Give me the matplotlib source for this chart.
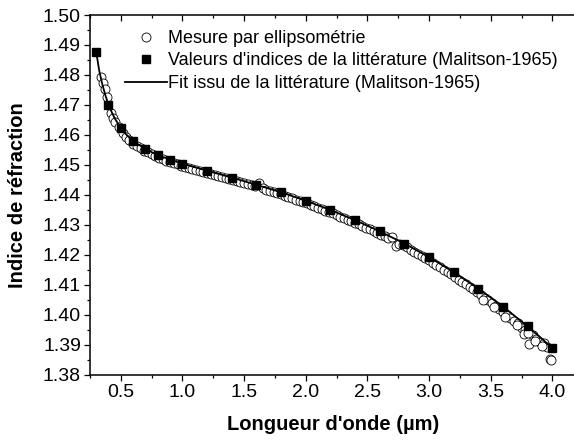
import numpy as np
import matplotlib
matplotlib.use('Agg')
import matplotlib.pyplot as plt
from matplotlib.ticker import MultipleLocator, FormatStrFormatter

plt.rcParams['font.family'] = ['Liberation Sans', 'DejaVu Sans']

# ellipsometry measurement
lam_mes = [0.340, 0.354, 0.368, 0.389, 0.421, 0.435, 0.449, 0.489, 0.516, 0.545,
           0.57, 0.60, 0.63, 0.66, 0.69, 0.72, 0.75, 0.78, 0.81, 0.84,
           0.87, 0.90, 0.93, 0.96, 0.99, 1.02, 1.05, 1.08, 1.11, 1.14,
           1.17, 1.20, 1.23, 1.26, 1.29, 1.32, 1.35, 1.38, 1.41, 1.44,
           1.47, 1.50, 1.53, 1.56, 1.59, 1.62, 1.65, 1.68, 1.71, 1.74,
           1.77, 1.80, 1.83, 1.86, 1.89, 1.92, 1.95, 1.98, 2.01, 2.04,
           2.07, 2.10, 2.13, 2.16, 2.19, 2.22, 2.25, 2.28, 2.31, 2.34,
           2.37, 2.40, 2.43, 2.46, 2.49, 2.52, 2.55, 2.58, 2.61, 2.64,
           2.67, 2.70, 2.73, 2.76, 2.79, 2.82, 2.85, 2.88, 2.91, 2.94,
           2.97, 3.00, 3.03, 3.06, 3.09, 3.12, 3.15, 3.18, 3.21, 3.24,
           3.27, 3.30, 3.33, 3.36, 3.39, 3.42, 3.45, 3.48, 3.51, 3.54,
           3.57, 3.60, 3.63, 3.66, 3.69, 3.72, 3.75, 3.78, 3.81, 3.84,
           3.87, 3.90, 3.93, 3.96, 3.98, 3.99,
           3.44, 3.53, 3.62, 3.71, 3.77, 3.80, 3.86, 3.92]
n_mes = [1.4792, 1.4773, 1.4754, 1.4728, 1.4673, 1.4656, 1.4644, 1.4626, 1.4608, 1.4594,
         1.4585, 1.4571, 1.4563, 1.4556, 1.4548, 1.4542, 1.4536, 1.4530, 1.4525, 1.4520,
         1.4515, 1.4511, 1.4507, 1.4503, 1.4498, 1.4495, 1.4491, 1.4488, 1.4484, 1.4481,
         1.4478, 1.4474, 1.4471, 1.4468, 1.4464, 1.4461, 1.4458, 1.4453, 1.4451, 1.4448,
         1.4444, 1.4440, 1.4437, 1.4433, 1.4429, 1.4440, 1.4422, 1.4418, 1.4414, 1.4410,
         1.4406, 1.4402, 1.4398, 1.4394, 1.4390, 1.4385, 1.4381, 1.4377, 1.4372, 1.4368,
         1.4363, 1.4358, 1.4353, 1.4348, 1.4343, 1.4339, 1.4334, 1.4328, 1.4323, 1.4318,
         1.4313, 1.4307, 1.4302, 1.4296, 1.4291, 1.4285, 1.4280, 1.4274, 1.4268, 1.4262,
         1.4257, 1.4259, 1.4230, 1.4238, 1.4232, 1.4225, 1.4218, 1.4211, 1.4204, 1.4197,
         1.4190, 1.4183, 1.4175, 1.4167, 1.4160, 1.4151, 1.4143, 1.4136, 1.4127, 1.4118,
         1.4110, 1.4102, 1.4093, 1.4085, 1.4076, 1.4066, 1.4057, 1.4049, 1.4040, 1.4030,
         1.4020, 1.4010, 1.4001, 1.3990, 1.3981, 1.3972, 1.3958, 1.3950, 1.3902, 1.3932,
         1.3920, 1.3910, 1.3906, 1.3895, 1.3852, 1.3850,
         1.4050, 1.4025, 1.3995, 1.3965, 1.3938, 1.3940, 1.3915, 1.3898]

# Malitson (1965) tabulated indices
lam_lit = [0.3, 0.4, 0.5, 0.6, 0.7, 0.8, 0.9, 1.0, 1.2, 1.4, 1.6, 1.8,
           2.0, 2.2, 2.4, 2.6, 2.8, 3.0, 3.2, 3.4, 3.6, 3.8, 4.0]
n_lit = [1.4878, 1.4701, 1.4623, 1.4580, 1.4553, 1.4533, 1.4518, 1.4504,
         1.4481, 1.4458, 1.4434, 1.4409, 1.4381, 1.4350, 1.4316, 1.4279,
         1.4238, 1.4193, 1.4143, 1.4088, 1.4028, 1.3962, 1.3890]

# fit curve from the literature
lam_fit = [0.3, 0.325, 0.35, 0.375, 0.4, 0.425, 0.45, 0.5, 0.55, 0.6, 0.7, 0.8, 0.9,
           1.0, 1.2, 1.4, 1.6, 1.8, 2.0, 2.2, 2.4, 2.6, 2.8, 3.0, 3.2, 3.4,
           3.6, 3.8, 4.0]
n_fit = [1.4878, 1.4814, 1.4769, 1.4732, 1.4701, 1.4677, 1.4656, 1.4623, 1.4599,
         1.4580, 1.4553, 1.4533, 1.4518, 1.4504, 1.4481, 1.4458, 1.4434, 1.4409,
         1.4381, 1.4350, 1.4316, 1.4279, 1.4238, 1.4193, 1.4143, 1.4088, 1.4028,
         1.3962, 1.3890]

fig = plt.figure(figsize=(5.74, 4.46), dpi=100)
ax = fig.add_axes([90/574, 71/446, 487/574, 360/446])

ax.plot(lam_mes, n_mes, 'o', ms=6.5, mfc='white', mec='black', mew=0.6,
        label='Mesure par ellipsométrie', zorder=2)
ax.plot(lam_lit, n_lit, 's', ms=5.5, color='black',
        label="Valeurs d'indices de la littérature (Malitson-1965)", zorder=4)
ax.plot(lam_fit, n_fit, '-', lw=1.3, color='black',
        label='Fit issu de la littérature (Malitson-1965)', zorder=3)

ax.set_xlim(0.25, 4.2)
ax.set_ylim(1.38, 1.50)
ax.xaxis.set_major_locator(MultipleLocator(0.5))
ax.xaxis.set_minor_locator(MultipleLocator(0.25))
ax.yaxis.set_major_locator(MultipleLocator(0.01))
ax.yaxis.set_minor_locator(MultipleLocator(0.005))
ax.xaxis.set_major_formatter(FormatStrFormatter('%.1f'))
ax.yaxis.set_major_formatter(FormatStrFormatter('%.2f'))

for s in ['left', 'bottom', 'top']:
    ax.spines[s].set_linewidth(1.1)
ax.spines['right'].set_visible(False)

ax.tick_params(which='major', direction='out', length=4.5, width=0.9, labelsize=14, pad=2)
ax.tick_params(which='minor', direction='out', length=2.5, width=0.9)

# inward ticks on the top spine
top = ax.secondary_xaxis('top')
top.xaxis.set_major_locator(MultipleLocator(0.5))
top.xaxis.set_minor_locator(MultipleLocator(0.25))
top.tick_params(which='major', direction='in', length=4.5, width=0.9, labeltop=False)
top.tick_params(which='minor', direction='in', length=2.5, width=0.9)
top.spines['top'].set_visible(False)

ax.set_xlabel("Longueur d'onde (µm)", fontsize=14.5, fontweight='bold')
ax.set_ylabel('Indice de réfraction', fontsize=14.5, fontweight='bold')
ax.xaxis.set_label_coords(0.5, -0.112)
ax.yaxis.set_label_coords(-0.148, 0.5)
ax.yaxis.label.set_va('center')

ax.legend(loc='upper left', bbox_to_anchor=(125/574, 1 - 30/446),
          bbox_transform=fig.transFigure, frameon=False, fontsize=13,
          handlelength=2.3, handletextpad=0.1, labelspacing=0.3,
          borderpad=0, borderaxespad=0)

fig.savefig('out.png', dpi=100)
